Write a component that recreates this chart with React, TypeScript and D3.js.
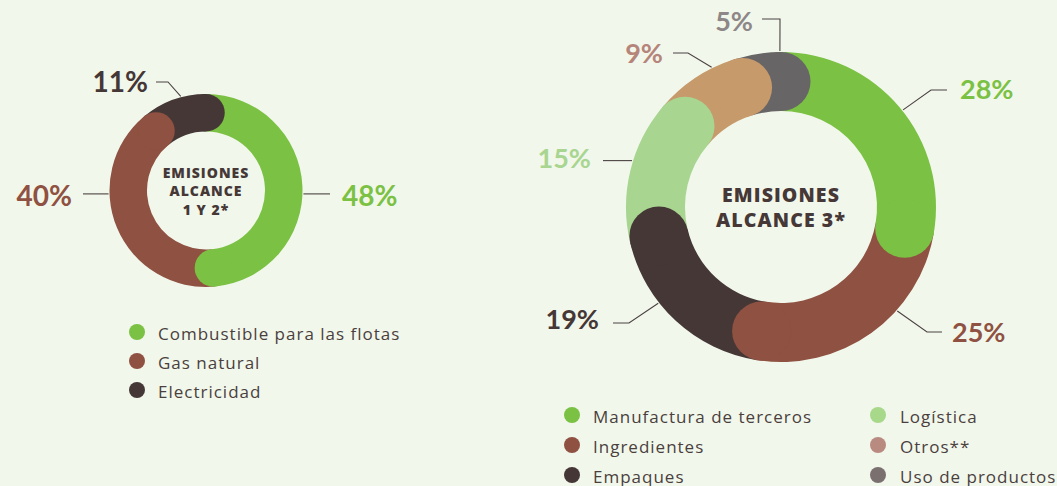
import React from "react";
import * as d3 from "d3";

// ---------- DATA ----------
const scope12Title = ["EMISIONES", "ALCANCE", "1 Y 2*"];
const scope12Categories = ["Combustible para las flotas", "Gas natural", "Electricidad"];
const scope12Values = [48, 40, 11];
const scope12Colors = ["#7bc143", "#8f5141", "#453736"];
const scope12LabelColors = ["#7bc143", "#8f5141", "#453736"];

const scope3Title = ["EMISIONES", "ALCANCE 3*"];
const scope3Categories = [
  "Manufactura de terceros",
  "Ingredientes",
  "Empaques",
  "Logística",
  "Otros**",
  "Uso de productos",
];
const scope3Values = [28, 25, 19, 15, 9, 5];
const scope3Colors = ["#7bc143", "#8f5141", "#453736", "#a8d590", "#c69a6b", "#676565"];
const scope3LabelColors = ["#7bc143", "#8f5141", "#453736", "#a8d590", "#b5857a", "#8e8787"];
const scope3LegendColors = ["#7bc143", "#8f5141", "#453736", "#a8d88a", "#b98a80", "#7a7070"];

// leader layout (angle of start on ring in degrees, elbow offset, end x offset, text side)
const scope12Leaders = [
  { angle: 92, elbow: null, endX: 124, textX: 136, textY: 15.5, anchor: "start" },
  { angle: 268, elbow: null, endX: -123, textX: -134, textY: 15.5, anchor: "end" },
  { angle: 345, elbow: [-38, -108.5], endX: -50, textX: -58, textY: -98.5, anchor: "end" },
];
const scope3Leaders = [
  { angle: 51.5, elbow: [150, -117], endX: 166, textX: 179, textY: -108, anchor: "start" },
  { angle: 131.8, elbow: [146, 125], endX: 161, textX: 171, textY: 135, anchor: "start" },
  { angle: 231.9, elbow: [-152, 116], endX: -168, textX: -182, textY: 122, anchor: "end" },
  { angle: 287.3, elbow: null, endX: -178, textX: -190, textY: -39, anchor: "end" },
  { angle: 333.6, elbow: [-93, -154], endX: -108, textX: -118, textY: -144, anchor: "end" },
  { angle: 359.6, elbow: [-1, -188], endX: -19, textX: -28, textY: -176, anchor: "end" },
];

const BG = "#f2f7ec";
const TEXT = "#4a3f3d";
const LINE = "#4a4242";
const FONT = "Lato, 'Open Sans', sans-serif";
const FONT2 = "'Open Sans', Lato, sans-serif";

type Leader = { angle: number; elbow: number[] | null; endX: number; textX: number; textY: number; anchor: string };

function Donut({
  cx, cy, outer, inner, values, colors, labelColors, leaders, title, titleSize, titleLineH, labelSize, titleSpacing,
}: {
  cx: number; cy: number; outer: number; inner: number; values: number[]; colors: string[];
  labelColors: string[]; leaders: Leader[]; title: string[]; titleSize: number; titleLineH: number; labelSize: number;
  titleSpacing: number;
}) {
  const pie = d3.pie<number>().sort(null).value((d) => d);
  const arcs = pie(values);
  const arcGen = d3.arc<d3.PieArcDatum<number>>().innerRadius(inner).outerRadius(outer);
  const midR = (outer + inner) / 2;
  const capR = (outer - inner) / 2;
  const capOrder = arcs.map((_, i) => i).reverse();
  const rad = (deg: number) => (deg * Math.PI) / 180;
  const titleStart = -((title.length - 1) * titleLineH) / 2;
  return (
    <g transform={`translate(${cx},${cy})`}>
      {arcs.map((a, i) => (
        <path key={"a" + i} d={arcGen(a) || ""} fill={colors[i]} />
      ))}
      {capOrder.map((i) => {
        const ang = arcs[i].endAngle;
        return (
          <circle key={"c" + i} cx={midR * Math.sin(ang)} cy={-midR * Math.cos(ang)} r={capR} fill={colors[i]} />
        );
      })}
      {leaders.map((l, i) => {
        const sx = (outer + 1) * Math.sin(rad(l.angle));
        const sy = -(outer + 1) * Math.cos(rad(l.angle));
        const pts: number[][] = [[sx, sy]];
        if (l.elbow) pts.push(l.elbow);
        const ey = l.elbow ? l.elbow[1] : sy;
        pts.push([l.endX, ey]);
        const line = d3.line()(pts as [number, number][]) || "";
        return (
          <g key={"l" + i}>
            <path d={line} fill="none" stroke={LINE} strokeWidth={1.1} />
            <text
              x={l.textX}
              y={l.textY}
              textAnchor={l.anchor as any}
              fontFamily={FONT}
              fontWeight={700}
              fontSize={labelSize}
              fill={labelColors[i]}
            >
              {d3.format("d")(values[i]) + "%"}
            </text>
          </g>
        );
      })}
      {title.map((t, i) => (
        <text
          key={"t" + i}
          x={0}
          y={titleStart + i * titleLineH}
          textAnchor="middle"
          dominantBaseline="central"
          fontFamily={FONT2}
          fontWeight={800}
          fontSize={titleSize}
          letterSpacing={titleSpacing}
          fill="#453836"
        >
          {t}
        </text>
      ))}
    </g>
  );
}

function Legend({
  x, y, step, items, colors, textGap, fontSize,
}: { x: number; y: number; step: number; items: string[]; colors: string[]; textGap: number; fontSize: number }) {
  return (
    <g>
      {items.map((it, i) => (
        <g key={i} transform={`translate(${x},${y + i * step})`}>
          <circle cx={0} cy={0} r={8} fill={colors[i]} />
          <text
            x={textGap}
            y={1}
            dominantBaseline="central"
            fontFamily={FONT2}
            fontSize={fontSize}
            letterSpacing={1.0}
            fill={TEXT}
          >
            {it}
          </text>
        </g>
      ))}
    </g>
  );
}

export default function App() {
  return (
    <svg
      width={1057}
      height={486}
      style={{ position: "fixed", top: 0, left: 0, display: "block", background: BG }}
    >
      <rect width={1057} height={486} fill={BG} />
      <Donut
        cx={206}
        cy={190.5}
        outer={96.5}
        inner={59}
        values={scope12Values}
        colors={scope12Colors}
        labelColors={scope12LabelColors}
        leaders={scope12Leaders}
        title={scope12Title}
        titleSize={14}
        titleLineH={18.5}
        labelSize={28}
        titleSpacing={1}
      />
      <Legend x={137} y={332} step={29} items={scope12Categories} colors={scope12Colors} textGap={21} fontSize={17} />
      <Donut
        cx={781}
        cy={207}
        outer={155}
        inner={96}
        values={scope3Values}
        colors={scope3Colors}
        labelColors={scope3LabelColors}
        leaders={scope3Leaders}
        title={scope3Title}
        titleSize={19.5}
        titleLineH={25}
        labelSize={27}
        titleSpacing={1.1}
      />
      <Legend x={572} y={415} step={30} items={scope3Categories.slice(0, 3)} colors={scope3LegendColors.slice(0, 3)} textGap={21} fontSize={17} />
      <Legend x={878} y={415} step={30} items={scope3Categories.slice(3)} colors={scope3LegendColors.slice(3)} textGap={22} fontSize={17} />
    </svg>
  );
}
